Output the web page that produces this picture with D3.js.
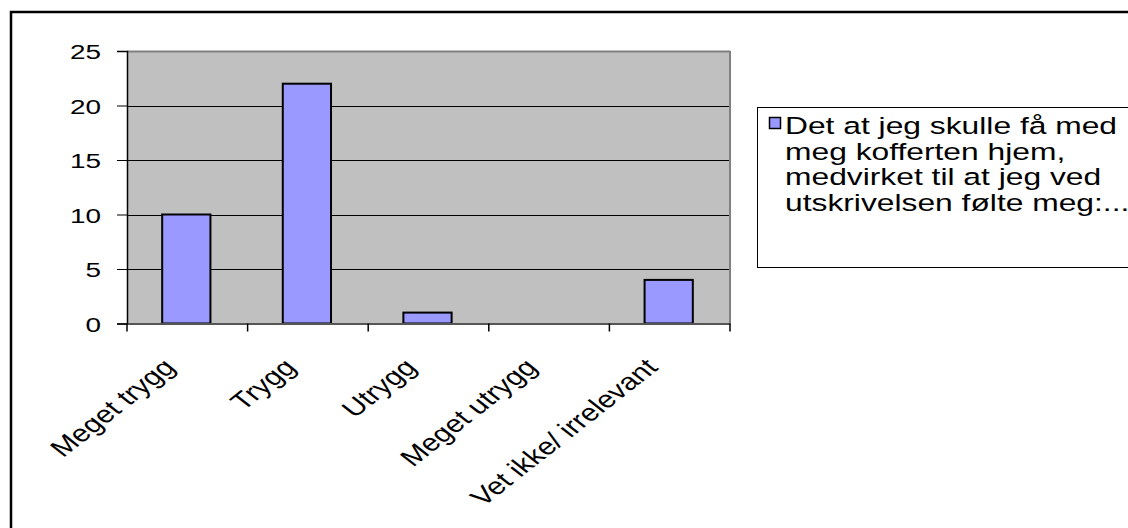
<!DOCTYPE html>
<html>
<head>
<meta charset="utf-8">
<script src="https://cdn.jsdelivr.net/npm/d3@7"></script>
<style>
  html, body { margin: 0; padding: 0; background: #fff; }
  svg { display: block; }
  text { font-family: "Liberation Sans", Arial, sans-serif; fill: #000; }
</style>
</head>
<body>
<svg id="chart" width="1128" height="528"></svg>
<script>
const categories = ["Meget trygg", "Trygg", "Utrygg", "Meget utrygg", "Vet ikke/ irrelevant"];
const values = [10, 22, 1, 0, 4];
const yTicks = [0, 5, 10, 15, 20, 25];
const legendLines = ["Det at jeg skulle få med", "meg kofferten hjem,", "medvirket til at jeg ved", "utskrivelsen følte meg:..."];

const SX = 1.33; // horizontal stretch of the reference's text
const SXR = 1.27; // stretch for the rotated labels
const svg = d3.select("#chart");

// outer frame (only left and top edges visible)
svg.append("rect").attr("x", 11).attr("y", 12).attr("width", 1300).attr("height", 700)
  .attr("fill", "#fff").attr("stroke", "#000").attr("stroke-width", 2.5);

const plot = { left: 127, right: 730, top: 51, bottom: 323.5 };
const x = d3.scaleBand().domain(categories).range([plot.left, plot.right]);
const y = d3.scaleLinear().domain([0, 25]).range([plot.bottom, plot.top]);

// plot background
svg.append("rect").attr("x", plot.left).attr("y", plot.top)
  .attr("width", plot.right - plot.left).attr("height", plot.bottom - plot.top)
  .attr("fill", "#C0C0C0");

// gridlines
svg.append("g").selectAll("line").data(yTicks.filter(d => d > 0 && d < 25)).join("line")
  .attr("x1", plot.left).attr("x2", plot.right)
  .attr("y1", d => Math.round(y(d)) + 0.5).attr("y2", d => Math.round(y(d)) + 0.5)
  .attr("stroke", "#000").attr("stroke-width", 1);

// top & right borders (gray)
svg.append("line").attr("x1", plot.left).attr("x2", plot.right)
  .attr("y1", Math.round(y(25)) + 0.5).attr("y2", Math.round(y(25)) + 0.5)
  .attr("stroke", "#808080").attr("stroke-width", 2);
svg.append("line").attr("x1", plot.right).attr("x2", plot.right)
  .attr("y1", plot.top).attr("y2", plot.bottom)
  .attr("stroke", "#808080").attr("stroke-width", 2);

// bars
const bw = x.bandwidth() / 2.5;
svg.append("g").selectAll("rect").data(values).join("rect")
  .attr("x", (d, i) => x(categories[i]) + (x.bandwidth() - bw) / 2 - 1)
  .attr("y", d => y(d))
  .attr("width", bw)
  .attr("height", d => y(0) - y(d))
  .attr("fill", "#9999FF").attr("stroke", "#000").attr("stroke-width", 2)
  .attr("display", d => d > 0 ? null : "none");

// y axis
const yAxis = d3.axisLeft(y).tickValues(yTicks).tickSize(10).tickPadding(16).tickFormat(d3.format("d"));
const gy = svg.append("g").attr("transform", `translate(${plot.left},0)`).call(yAxis);
gy.select(".domain").attr("stroke", "#000").attr("stroke-width", 1.5);
gy.selectAll(".tick line").attr("stroke", "#000");
gy.selectAll(".tick text")
  .attr("font-size", 21).attr("font-family", "Liberation Sans, Arial, sans-serif")
  .attr("fill", "#000")
  .attr("transform", function() {
    const tx = +d3.select(this).attr("x");
    return `translate(${tx * (1 - SX)},1) scale(${SX},1)`;
  });

// x axis
const xAxis = d3.axisBottom(x).tickValues([]).tickSizeOuter(0);
const gx = svg.append("g").attr("transform", `translate(0,${plot.bottom})`).call(xAxis);
gx.select(".domain").attr("stroke", "#555").attr("stroke-width", 2);
const boundaries = categories.map(c => x(c)).concat([plot.right]);
gx.selectAll("line.b").data(boundaries).join("line").attr("class", "b")
  .attr("x1", d => d).attr("x2", d => d).attr("y1", 0).attr("y2", 8)
  .attr("stroke", "#000").attr("stroke-width", 1.5);

// rotated category labels
svg.append("g").selectAll("text").data(categories).join("text")
  .attr("transform", d => `translate(${x(d) + x.bandwidth() / 2 - 26},${plot.bottom + 33}) scale(${SXR},1) rotate(-45)`)
  .attr("text-anchor", "end")
  .attr("dy", "0.72em")
  .attr("font-size", 24)
  .text(d => d);

// legend
const lg = svg.append("g");
lg.append("rect").attr("x", 757.5).attr("y", 107.5).attr("width", 500).attr("height", 160)
  .attr("fill", "#fff").attr("stroke", "#000").attr("stroke-width", 1);
lg.append("rect").attr("x", 769.5).attr("y", 117.5).attr("width", 11).attr("height", 11)
  .attr("fill", "#9999FF").attr("stroke", "#000").attr("stroke-width", 1.5);
lg.selectAll("text.l").data(legendLines).join("text").attr("class", "l")
  .attr("transform", (d, i) => `translate(785,${134 + i * 25.5}) scale(${SX},1)`)
  .attr("font-size", 23.9)
  .text(d => d);
</script>
</body>
</html>
